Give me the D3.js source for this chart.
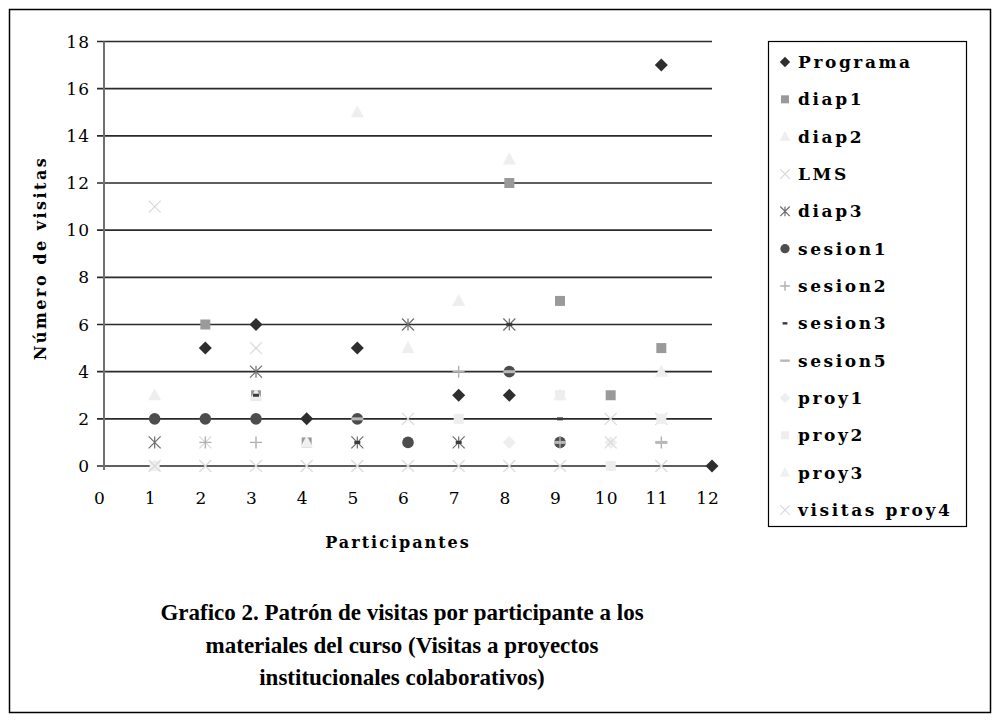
<!DOCTYPE html>
<html>
<head>
<meta charset="utf-8">
<script src="https://cdn.jsdelivr.net/npm/d3@7"></script>
<style>
  html, body { margin: 0; padding: 0; background: #fff; }
  svg text { fill: #000; }
</style>
</head>
<body>
<div id="chart"></div>
<script>
// Participants 1..12, one value per participant (null = no mark)
const participants = d3.range(1, 13);
const programa  = [null, 5, 6, 2, 5, null, 3, 3, null, null, 17, 0];
const diap1     = [null, 6, 3, 1, null, null, null, 12, 7, 3, 5, null];
const diap2     = [3, null, 3, null, 15, 5, 7, 13, 3, null, 4, null];
const lms       = [11, 1, 5, null, null, 2, null, null, null, 2, 2, null];
const diap3     = [1, null, 4, null, 1, 6, 1, 6, null, null, null, null];
const sesion1   = [2, 2, 2, null, 2, 1, null, 4, 1, null, null, null];
const sesion2   = [null, 1, 1, null, null, null, 4, null, 1, null, 1, null];
const sesion3   = [null, null, 3, null, 1, null, 1, 6, 2, null, null, null];
const sesion5   = [null, null, null, null, 2, null, null, 4, 1, null, 1, null];
const proy1     = [null, null, null, null, null, null, null, 1, null, 1, null, null];
const proy2     = [0, null, null, null, null, null, 2, null, 3, 0, 2, null];
const proy3     = [0, null, null, 1, null, null, null, null, null, null, null, null];
const proy4     = [0, 0, 0, 0, 0, 0, 0, 0, 0, 1, 0, null];

const seriesNames = ["Programa", "diap1", "diap2", "LMS", "diap3", "sesion1", "sesion2",
  "sesion3", "sesion5", "proy1", "proy2", "proy3", "visitas proy4"];
const seriesValues = [programa, diap1, diap2, lms, diap3, sesion1, sesion2,
  sesion3, sesion5, proy1, proy2, proy3, proy4];
const yTicks = d3.range(0, 19, 2);
const xTicks = d3.range(0, 13);
const titleLines = [
  "Grafico 2. Patrón de visitas por participante a los",
  "materiales del curso (Visitas a proyectos",
  "institucionales colaborativos)"
];

// marker style per series
const markers = [
  { shape: "diamond", fill: "#2e2e2e" },
  { shape: "square", fill: "#9a9a9a" },
  { shape: "triangle", fill: "#eeeeee" },
  { shape: "x", stroke: "#d8d8d8" },
  { shape: "asterisk", stroke: "#6e6e6e" },
  { shape: "circle", fill: "#4d4d4d" },
  { shape: "plus", stroke: "#b0b0b0" },
  { shape: "dashShort", fill: "#3a3a3a" },
  { shape: "dashLong", fill: "#b8b8b8" },
  { shape: "diamond", fill: "#eeeeee" },
  { shape: "square", fill: "#eeeeee" },
  { shape: "triangle", fill: "#f0f0f0" },
  { shape: "x", stroke: "#dadada" }
];

const width = 1003, height = 724;
const svg = d3.select("#chart").append("svg")
  .attr("width", width).attr("height", height);

svg.append("rect")
  .attr("x", 9.5).attr("y", 9.5).attr("width", 981).attr("height", 703)
  .attr("fill", "#fff").attr("stroke", "#000").attr("stroke-width", 1.5);

const x = d3.scaleLinear().domain([0, 12]).range([104, 712]);
const y = d3.scaleLinear().domain([0, 18]).range([466, 41.5]);

// gridlines
svg.append("g").selectAll("line").data(yTicks).join("line")
  .attr("x1", 97).attr("x2", x(12))
  .attr("y1", d => y(d)).attr("y2", d => y(d))
  .attr("stroke", "#2a2a2a").attr("stroke-width", 1.6);

// y axis line
svg.append("line")
  .attr("x1", x(0)).attr("x2", x(0)).attr("y1", y(18)).attr("y2", y(0) + 4)
  .attr("stroke", "#707070").attr("stroke-width", 2);

const tickFont = "'DejaVu Serif', serif";
svg.append("g").selectAll("text").data(yTicks).join("text")
  .attr("x", 90).attr("y", d => y(d) + 6)
  .attr("text-anchor", "end")
  .attr("font-family", tickFont).attr("font-size", 17)
  .attr("letter-spacing", 1)
  .text(d => d);

svg.append("g").selectAll("text").data(xTicks).join("text")
  .attr("x", d => x(d) - 4).attr("y", 504)
  .attr("text-anchor", "middle")
  .attr("font-family", tickFont).attr("font-size", 17)
  .attr("letter-spacing", 1)
  .text(d => d);

svg.append("text")
  .attr("x", 398).attr("y", 548)
  .attr("text-anchor", "middle")
  .attr("font-family", tickFont).attr("font-weight", "bold").attr("font-size", 16)
  .attr("letter-spacing", 2)
  .text("Participantes");

svg.append("text")
  .attr("transform", "translate(46,258) rotate(-90)")
  .attr("text-anchor", "middle")
  .attr("font-family", tickFont).attr("font-weight", "bold").attr("font-size", 16)
  .attr("letter-spacing", 2.5)
  .text("Número de visitas");

// marker drawing
function drawMarker(g, m, cx, cy, scale = 1) {
  const s = scale;
  if (m.shape === "diamond") {
    const r = 6.5 * s;
    g.append("path").attr("d", `M${cx},${cy - r}L${cx + r},${cy}L${cx},${cy + r}L${cx - r},${cy}Z`)
      .attr("fill", m.fill);
  } else if (m.shape === "square") {
    g.append("rect").attr("x", cx - 5 * s).attr("y", cy - 5 * s)
      .attr("width", 10 * s).attr("height", 10 * s).attr("fill", m.fill);
  } else if (m.shape === "triangle") {
    g.append("path").attr("d", `M${cx},${cy - 7 * s}L${cx + 6.5 * s},${cy + 5 * s}L${cx - 6.5 * s},${cy + 5 * s}Z`)
      .attr("fill", m.fill);
  } else if (m.shape === "circle") {
    g.append("circle").attr("cx", cx).attr("cy", cy).attr("r", 5.8 * s).attr("fill", m.fill);
  } else if (m.shape === "x") {
    const r = 6 * s;
    g.append("path").attr("d", `M${cx - r},${cy - r}L${cx + r},${cy + r}M${cx - r},${cy + r}L${cx + r},${cy - r}`)
      .attr("stroke", m.stroke).attr("stroke-width", 1.2).attr("fill", "none");
  } else if (m.shape === "plus") {
    const r = 6 * s;
    g.append("path").attr("d", `M${cx - r},${cy}L${cx + r},${cy}M${cx},${cy - r}L${cx},${cy + r}`)
      .attr("stroke", m.stroke).attr("stroke-width", 1.4).attr("fill", "none");
  } else if (m.shape === "asterisk") {
    const r = 6 * s;
    g.append("path").attr("d", `M${cx - r},${cy - r}L${cx + r},${cy + r}M${cx - r},${cy + r}L${cx + r},${cy - r}M${cx},${cy - r}L${cx},${cy + r}`)
      .attr("stroke", m.stroke).attr("stroke-width", 1.2).attr("fill", "none");
  } else if (m.shape === "dashShort") {
    g.append("rect").attr("x", cx - 3 * s).attr("y", cy - 1.5 * s)
      .attr("width", 6 * s).attr("height", 3 * s).attr("fill", m.fill);
  } else if (m.shape === "dashLong") {
    g.append("rect").attr("x", cx - 6 * s).attr("y", cy - 1.5 * s)
      .attr("width", 12 * s).attr("height", 3 * s).attr("fill", m.fill);
  }
}

const pts = svg.append("g");
seriesValues.forEach((vals, i) => {
  vals.forEach((v, j) => {
    if (v === null) return;
    drawMarker(pts, markers[i], x(participants[j]), y(v));
  });
});

// legend
const lg = svg.append("g");
lg.append("rect")
  .attr("x", 768.5).attr("y", 41.5).attr("width", 198).attr("height", 485)
  .attr("fill", "#fff").attr("stroke", "#000").attr("stroke-width", 1.2);
const legendY = d3.scalePoint().domain(seriesNames).range([62, 510]);
seriesNames.forEach((name, i) => {
  const cy = legendY(name);
  drawMarker(lg, markers[i], 785, cy, 0.8);
  lg.append("text")
    .attr("x", 798).attr("y", cy + 6)
    .attr("font-family", tickFont).attr("font-weight", "bold").attr("font-size", 17)
    .attr("letter-spacing", 2.6)
    .text(name);
});

// caption
svg.append("g").selectAll("text").data(titleLines).join("text")
  .attr("x", 402).attr("y", (d, i) => 620 + i * 32.5)
  .attr("text-anchor", "middle")
  .attr("font-family", "'Liberation Serif', serif").attr("font-weight", "bold").attr("font-size", 23)
  .text(d => d);
</script>
</body>
</html>
